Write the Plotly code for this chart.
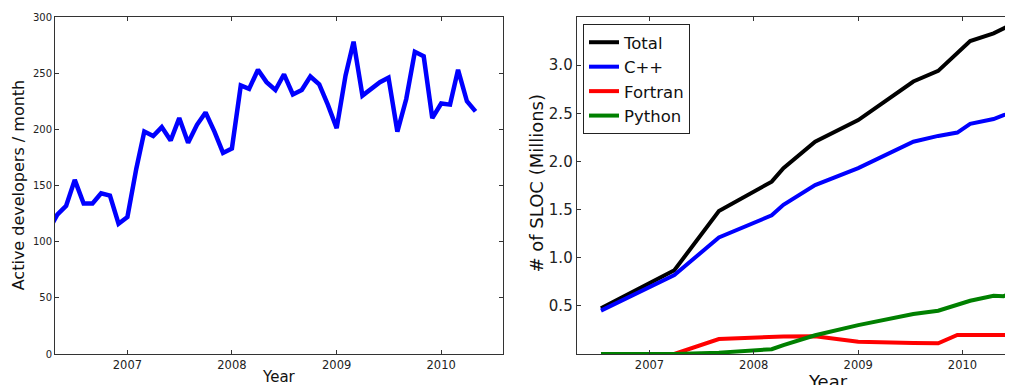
import plotly.graph_objects as go

# ---- Left chart: active developers per month ----
dev_months = [
    "2006-04-01", "2006-05-01", "2006-06-01", "2006-07-01", "2006-08-01", "2006-09-01",
    "2006-10-01", "2006-11-01", "2006-12-01",
    "2007-01-01", "2007-02-01", "2007-03-01", "2007-04-01", "2007-05-01", "2007-06-01",
    "2007-07-01", "2007-08-01", "2007-09-01", "2007-10-01", "2007-11-01", "2007-12-01",
    "2008-01-01", "2008-02-01", "2008-03-01", "2008-04-01", "2008-05-01", "2008-06-01",
    "2008-07-01", "2008-08-01", "2008-09-01", "2008-10-01", "2008-11-01", "2008-12-01",
    "2009-01-01", "2009-02-01", "2009-03-01", "2009-04-01", "2009-05-01", "2009-06-01",
    "2009-07-01", "2009-08-01", "2009-09-01", "2009-10-01", "2009-11-01", "2009-12-01",
    "2010-01-01", "2010-02-01", "2010-03-01", "2010-04-01", "2010-05-01",
]
dev_counts = [
    110, 124, 132, 155, 134, 134, 143, 141, 116,
    122, 165, 198, 194, 202, 190, 210, 188, 204, 215, 198, 179,
    183, 239, 236, 253, 242, 235, 249, 231, 235, 247, 240, 222,
    201, 248, 278, 230, 236, 242, 246, 198, 227, 269, 265, 210,
    223, 222, 253, 225, 216,
]

# ---- Right chart: SLOC by language (millions) ----
sloc_dates = [
    "2006-07-15", "2007-03-29", "2007-09-01", "2008-03-04", "2008-04-14", "2008-08-03",
    "2009-01-01", "2009-07-13", "2009-10-08", "2009-12-14", "2010-01-28", "2010-04-20",
    "2010-05-25", "2010-06-27",
]
sloc_total = [0.474, 0.87, 1.485, 1.79, 1.93, 2.205, 2.43, 2.83, 2.94, 3.12, 3.25, 3.33, 3.38, 3.43]
sloc_cpp = [0.45, 0.82, 1.21, 1.44, 1.55, 1.755, 1.93, 2.205, 2.265, 2.30, 2.39, 2.44, 2.48, 2.51]
sloc_fortran = [0.0, 0.0, 0.156, 0.18, 0.183, 0.185, 0.128, 0.115, 0.111, 0.197, 0.197, 0.197, 0.197, 0.197]
sloc_python = [0.0, 0.0, 0.014, 0.05, 0.093, 0.195, 0.30, 0.415, 0.45, 0.51, 0.553, 0.605, 0.60, 0.637]

year_ticks = ["2007-01-01", "2008-01-01", "2009-01-01", "2010-01-01"]
year_labels = ["2007", "2008", "2009", "2010"]
dev_yticks = [0, 50, 100, 150, 200, 250, 300]
sloc_yticks = [0.5, 1.0, 1.5, 2.0, 2.5, 3.0]

# The page body has an 8px margin; lay the figure out so that it lands on the window.
OFF = 8
W, H = 1013 - OFF, 385 - OFF
FONT = "DejaVu Sans"
AX = "#333333"

TOP, BOT = 17 - OFF, 354 - OFF
PH = float(BOT - TOP)

def px_x(x):
    return (x - OFF) / W

def px_y(y):
    return (BOT - (y - OFF)) / PH

fig = go.Figure()

fig.add_trace(go.Scatter(x=dev_months, y=dev_counts, mode="lines",
                         line=dict(color="#0000ff", width=4.5),
                         showlegend=False, xaxis="x", yaxis="y"))

series = [("Total", sloc_total, "#000000"), ("C++", sloc_cpp, "#0000ff"),
          ("Fortran", sloc_fortran, "#ff0000"), ("Python", sloc_python, "#008000")]
for name, vals, col in series:
    fig.add_trace(go.Scatter(x=sloc_dates, y=vals, mode="lines", name=name,
                             line=dict(color=col, width=4),
                             xaxis="x2", yaxis="y2"))

common = dict(showgrid=False, zeroline=False, showline=True, linecolor=AX, linewidth=1,
              ticks="inside", ticklen=4, tickcolor=AX, automargin=False)

fig.update_layout(
    width=W, height=H,
    margin=dict(l=0, r=0, t=TOP, b=H - BOT),
    paper_bgcolor="white", plot_bgcolor="white",
    font=dict(family=FONT, color="#222222"),
    xaxis=dict(domain=[px_x(55), px_x(503)], type="date",
               range=["2006-04-23", "2010-08-05"],
               tickvals=year_ticks, ticktext=year_labels, mirror="ticks",
               tickfont=dict(size=11.5, family=FONT), anchor="y", **common),
    yaxis=dict(domain=[0, 1], range=[0, 300], tickvals=dev_yticks,
               ticktext=[str(v) for v in dev_yticks], mirror="ticks",
               tickfont=dict(size=10, family=FONT), anchor="x", **common),
    xaxis2=dict(domain=[px_x(576.7), 1.0], type="date",
                range=["2006-04-21", "2010-06-27"],
                tickvals=year_ticks, ticktext=year_labels, mirror="ticks",
                tickfont=dict(size=11.5, family=FONT), anchor="y2", **common),
    yaxis2=dict(domain=[0, 1], range=[0, 3.5], tickvals=sloc_yticks,
                ticktext=["%.1f" % v for v in sloc_yticks], mirror=False,
                tickfont=dict(size=15, family=FONT), anchor="x2", **common),
    legend=dict(x=px_x(583), y=px_y(24), xanchor="left", yanchor="top",
                bgcolor="white", bordercolor="#222222", borderwidth=1,
                font=dict(size=16.5, family=FONT, color="#111111"),
                tracegroupgap=0),
)

annots = [
    dict(text="Active developers / month", x=px_x(18.3), y=px_y(185), textangle=-90,
         font=dict(size=16, family=FONT, color="#111111")),
    dict(text="Year", x=px_x(279), y=px_y(376.5),
         font=dict(size=15, family=FONT, color="#111111")),
    dict(text="# of SLOC (Millions)", x=px_x(536), y=px_y(183.5), textangle=-90,
         font=dict(size=18, family=FONT, color="#111111")),
    dict(text="Year", x=px_x(828), y=px_y(381),
         font=dict(size=18, family=FONT, color="#111111")),
]
for a in annots:
    fig.add_annotation(xref="paper", yref="paper", showarrow=False,
                       xanchor="center", yanchor="middle", **a)

fig.write_html("out.html")
